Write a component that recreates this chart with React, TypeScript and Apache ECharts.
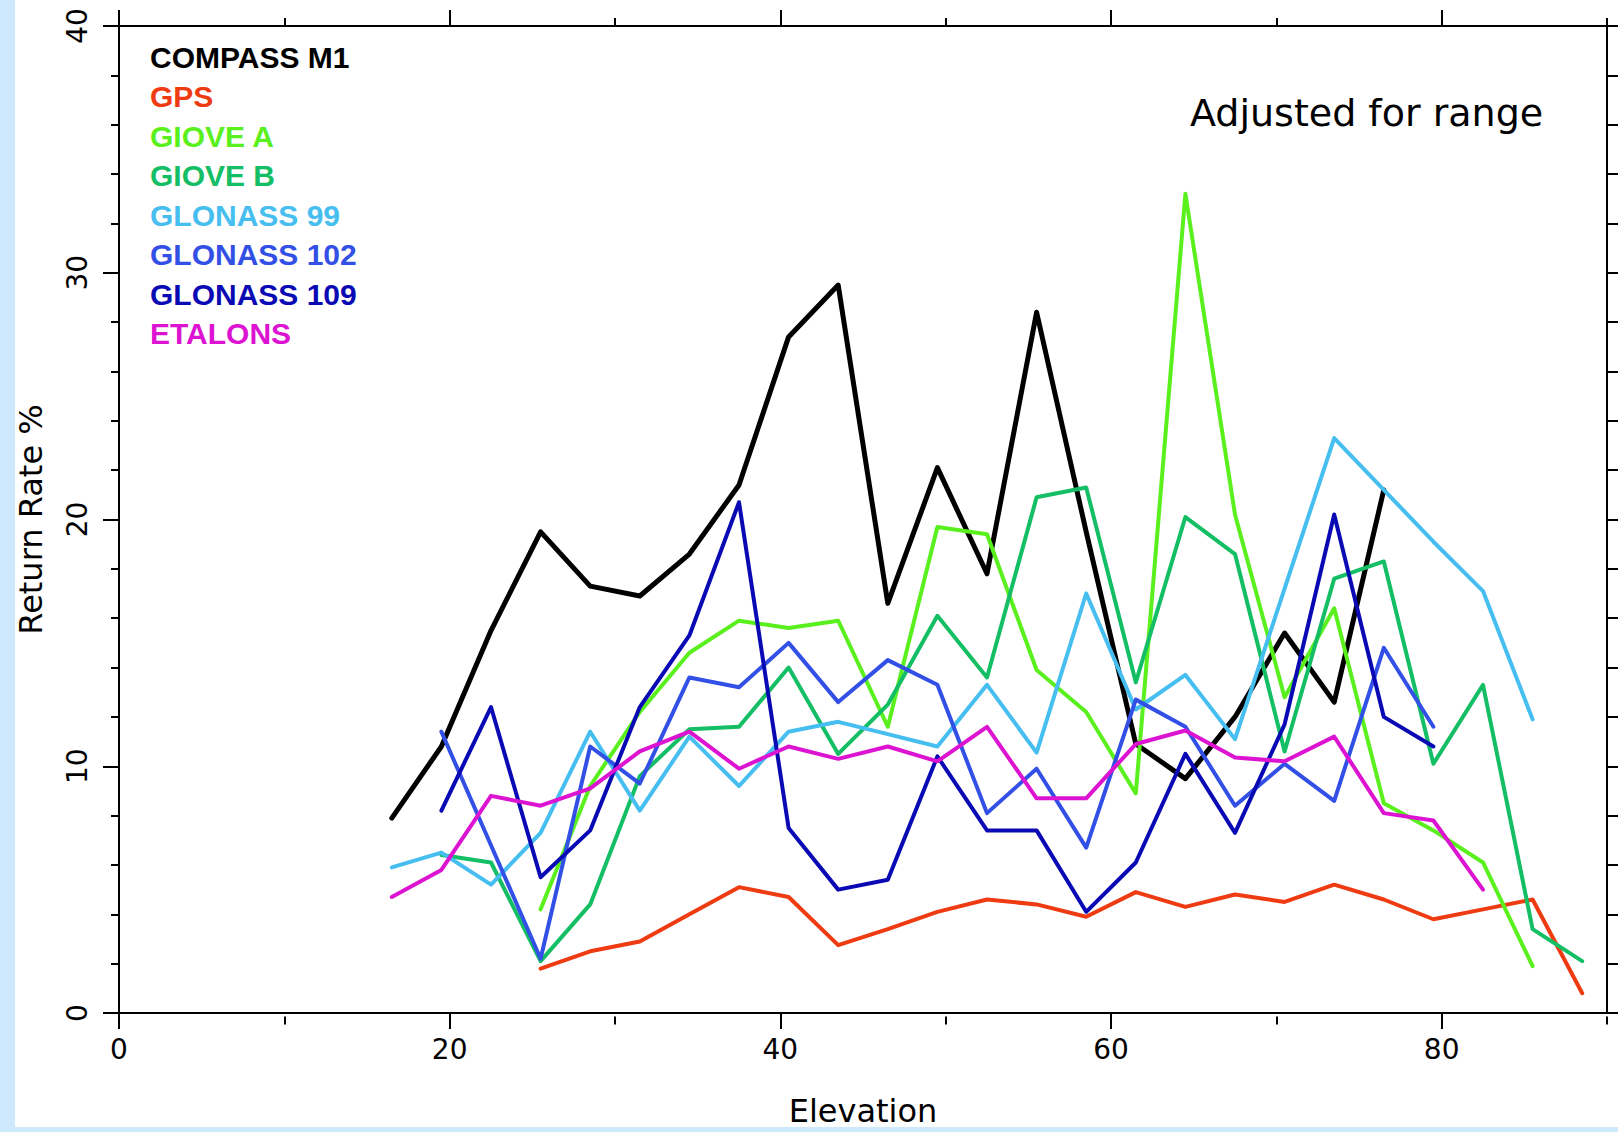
import React, { useEffect, useRef } from "react";
import * as echarts from "echarts";

// Elevation (degrees) of each sample
const elevations = [16.5, 19.5, 22.5, 25.5, 28.5, 31.5, 34.5, 37.5, 40.5, 43.5, 46.5, 49.5, 52.5, 55.5, 58.5, 61.5, 64.5, 67.5, 70.5, 73.5, 76.5, 79.5, 82.5, 85.5, 88.5];

// Return rate % per satellite (null = no data)
const compassM1 = [7.9, 10.8, 15.5, 19.5, 17.3, 16.9, 18.6, 21.4, 27.4, 29.5, 16.6, 22.1, 17.8, 28.4, 19.5, 10.9, 9.5, 12.0, 15.4, 12.6, 21.2, null, null, null, null];
const gps = [null, null, null, 1.8, 2.5, 2.9, 4.0, 5.1, 4.7, 2.75, 3.4, 4.1, 4.6, 4.4, 3.9, 4.9, 4.3, 4.8, 4.5, 5.2, 4.6, 3.8, 4.2, 4.6, 0.8];
const gioveA = [null, null, null, 4.2, 9.2, 12.2, 14.6, 15.9, 15.6, 15.9, 11.6, 19.7, 19.4, 13.9, 12.2, 8.9, 33.2, 20.2, 12.8, 16.4, 8.5, 7.4, 6.1, 1.9, null];
const gioveB = [null, 6.4, 6.1, 2.1, 4.4, 9.6, 11.5, 11.6, 14.0, 10.5, 12.5, 16.1, 13.6, 20.9, 21.3, 13.4, 20.1, 18.6, 10.6, 17.6, 18.3, 10.1, 13.3, 3.4, 2.1];
const glonass99 = [5.9, 6.5, 5.2, 7.3, 11.4, 8.2, 11.2, 9.2, 11.4, 11.8, 11.3, 10.8, 13.3, 10.55, 17.0, 12.3, 13.7, 11.1, 17.2, 23.3, 21.2, 19.1, 17.1, 11.9, null];
const glonass102 = [null, 11.4, 6.8, 2.2, 10.8, 9.3, 13.6, 13.2, 15.0, 12.6, 14.3, 13.3, 8.1, 9.9, 6.7, 12.7, 11.6, 8.4, 10.1, 8.6, 14.8, 11.6, null, null, null];
const glonass109 = [null, 8.2, 12.4, 5.5, 7.4, 12.4, 15.3, 20.7, 7.5, 5.0, 5.4, 10.4, 7.4, 7.4, 4.1, 6.1, 10.5, 7.3, 11.7, 20.2, 12.0, 10.8, null, null, null];
const etalons = [4.7, 5.8, 8.8, 8.4, 9.1, 10.6, 11.4, 9.9, 10.8, 10.3, 10.8, 10.2, 11.6, 8.7, 8.7, 10.9, 11.45, 10.35, 10.2, 11.2, 8.1, 7.8, 5.0, null, null];

const seriesNames = ["COMPASS M1", "GPS", "GIOVE A", "GIOVE B", "GLONASS 99", "GLONASS 102", "GLONASS 109", "ETALONS"];
const seriesValues = [compassM1, gps, gioveA, gioveB, glonass99, glonass102, glonass109, etalons];
const seriesColors = ["#000000", "#ef3b12", "#5af01e", "#14be64", "#46bef0", "#3350e6", "#0a0ab4", "#dc14d2"];

const xMajorTicks = [0, 20, 40, 60, 80];
const xMinorTicks = [10, 30, 50, 70, 90];
const xMin = 0;
const xMax = 90;
const yMin = 0;
const yMax = 40;
const yInterval = 10;

const annotation = "Adjusted for range";
const xTitle = "Elevation";
const yTitle = "Return Rate %";

const FONT = '"DejaVu Sans", sans-serif';
const GRID = { left: 119, top: 26, width: 1488, height: 990.6 };

export default function App() {
  const ref = useRef<HTMLDivElement>(null);

  useEffect(() => {
    document.body.style.margin = "0";
    const chart = echarts.init(ref.current as HTMLDivElement, null, { renderer: "svg" });

    const lineAxis = { show: true, onZero: false, lineStyle: { color: "#000", width: 2 } };

    const series = seriesNames.map((name, k) => ({
      name,
      type: "line",
      xAxisIndex: 0,
      yAxisIndex: 0,
      symbol: "none",
      showSymbol: false,
      silent: true,
      z: 2 + k,
      lineStyle: { color: seriesColors[k], width: k === 0 ? 5 : 4, join: "round", cap: "round" },
      itemStyle: { color: seriesColors[k] },
      data: elevations
        .map((x, i) => [x, seriesValues[k][i]])
        .filter((p) => p[1] !== null && p[1] !== undefined),
    }));

    const legendTexts = seriesNames.map((name, k) => ({
      type: "text",
      x: 150,
      y: 57 + 39.5 * k,
      z: 100,
      style: {
        text: name,
        fill: seriesColors[k],
        font: 'bold 30px "Liberation Sans", Arial, sans-serif',
        align: "left",
        verticalAlign: "middle",
      },
    }));

    chart.setOption({
      animation: false,
      backgroundColor: "transparent",
      grid: [
        { ...GRID, containLabel: false },
        { ...GRID, containLabel: false },
      ],
      xAxis: [
        {
          gridIndex: 0,
          type: "value",
          position: "bottom",
          min: xMin,
          max: xMax,
          interval: 10,
          axisLine: lineAxis,
          axisTick: { show: true, customValues: xMajorTicks, length: 16, inside: false, lineStyle: { color: "#000", width: 2 } },
          axisLabel: { show: true, customValues: xMajorTicks, margin: 22, color: "#000", fontFamily: FONT, fontSize: 28 },
          splitLine: { show: false },
          name: xTitle,
          nameLocation: "middle",
          nameGap: 82,
          nameTextStyle: { color: "#000", fontFamily: FONT, fontSize: 32 },
        },
        {
          gridIndex: 0,
          type: "value",
          position: "top",
          min: xMin,
          max: xMax,
          interval: 10,
          axisLine: lineAxis,
          axisTick: { show: true, customValues: xMajorTicks, length: 16, inside: false, lineStyle: { color: "#000", width: 2 } },
          axisLabel: { show: false },
          splitLine: { show: false },
        },
        {
          gridIndex: 1,
          type: "value",
          position: "bottom",
          min: xMin,
          max: xMax,
          interval: 10,
          axisLine: { show: false, onZero: false },
          axisTick: { show: true, customValues: xMinorTicks, length: 8, inside: false, lineStyle: { color: "#000", width: 2 } },
          axisLabel: { show: false },
          splitLine: { show: false },
        },
        {
          gridIndex: 1,
          type: "value",
          position: "top",
          min: xMin,
          max: xMax,
          interval: 10,
          axisLine: { show: false, onZero: false },
          axisTick: { show: true, customValues: xMinorTicks, length: 8, inside: false, lineStyle: { color: "#000", width: 2 } },
          axisLabel: { show: false },
          splitLine: { show: false },
        },
      ],
      yAxis: [
        {
          gridIndex: 0,
          type: "value",
          position: "left",
          min: yMin,
          max: yMax,
          interval: yInterval,
          axisLine: lineAxis,
          axisTick: { show: true, length: 16, inside: false, lineStyle: { color: "#000", width: 2 } },
          minorTick: { show: true, splitNumber: 5, length: 8, lineStyle: { color: "#000", width: 2 } },
          axisLabel: { show: true, rotate: 90, margin: 28, color: "#000", fontFamily: FONT, fontSize: 28 },
          splitLine: { show: false },
          minorSplitLine: { show: false },
          name: yTitle,
          nameLocation: "middle",
          nameRotate: 90,
          nameGap: 72,
          nameTextStyle: { color: "#000", fontFamily: FONT, fontSize: 32 },
        },
        {
          gridIndex: 0,
          type: "value",
          position: "right",
          min: yMin,
          max: yMax,
          interval: yInterval,
          axisLine: lineAxis,
          axisTick: { show: true, length: 14, inside: false, lineStyle: { color: "#000", width: 2 } },
          minorTick: { show: true, splitNumber: 5, length: 12, lineStyle: { color: "#000", width: 2 } },
          axisLabel: { show: false },
          splitLine: { show: false },
          minorSplitLine: { show: false },
        },
        {
          gridIndex: 1,
          type: "value",
          show: false,
          min: yMin,
          max: yMax,
          interval: yInterval,
          splitLine: { show: false },
        },
      ],
      series,
      graphic: [
        ...legendTexts,
        {
          type: "text",
          x: 1190,
          y: 113,
          z: 100,
          style: {
            text: annotation,
            fill: "#000",
            font: '38px "DejaVu Sans", sans-serif',
            align: "left",
            verticalAlign: "middle",
          },
        },
      ],
    });

    return () => chart.dispose();
  }, []);

  return (
    <div style={{ position: "fixed", left: 0, top: 0, width: 1618, height: 1132, background: "#cde9fb", overflow: "hidden" }}>
      <div style={{ position: "absolute", left: 15, top: 0, width: 1603, height: 1127, background: "#ffffff" }} />
      <div ref={ref} style={{ position: "absolute", left: 0, top: 0, width: 1618, height: 1132 }} />
    </div>
  );
}
